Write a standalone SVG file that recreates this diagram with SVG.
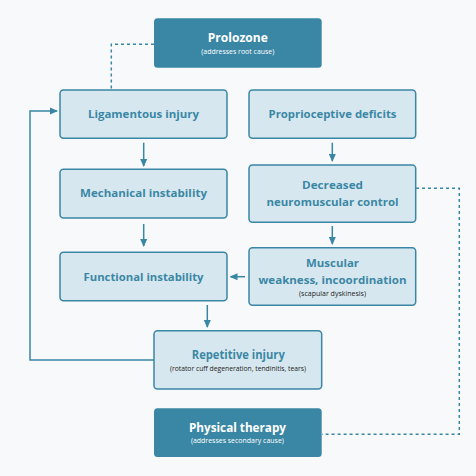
<svg xmlns="http://www.w3.org/2000/svg" width="476" height="476" viewBox="0 0 476 476">
<defs>
<marker id="ah" viewBox="0 0 8 8" refX="7" refY="4" markerWidth="8" markerHeight="8" markerUnits="userSpaceOnUse" orient="auto">
<path d="M0,0.5 L8,4 L0,7.5 Z" fill="#3a87a5"/>
</marker>
<style>
.dark{fill:#3a87a5;}
.light{fill:#d7e7ef;stroke:#3a87a5;stroke-width:1.5;}
.t{font-family:"Open Sans","Noto Sans",sans-serif;font-weight:700;fill:#3a87a5;text-anchor:middle;}
.tw{font-family:"Open Sans","Noto Sans",sans-serif;font-weight:700;fill:#ffffff;text-anchor:middle;}
.s{font-family:"Open Sans","Noto Sans",sans-serif;font-weight:500;fill:#222222;text-anchor:middle;font-size:6.5px;}
.sw{font-family:"Open Sans","Noto Sans",sans-serif;font-weight:500;fill:#ffffff;text-anchor:middle;font-size:6.8px;}
.ln{fill:none;stroke:#3a87a5;stroke-width:1.5;}
.dash{fill:none;stroke:#3a87a5;stroke-width:1.5;stroke-dasharray:3,3;}
</style>
</defs>
<rect width="476" height="476" fill="#f8f9fa"/>
<g id="connectors">
<path class="dash" d="M154,44.3 H111.3 V90"/>
<path class="dash" d="M416,188.3 H459.3 V434.3 H322"/>
<path class="ln" d="M143.7,142.7 V166" marker-end="url(#ah)"/>
<path class="ln" d="M143.7,224 V246" marker-end="url(#ah)"/>
<path class="ln" d="M332.3,142.7 V161" marker-end="url(#ah)"/>
<path class="ln" d="M332.3,226 V244" marker-end="url(#ah)"/>
<path class="ln" d="M245,276.7 H230.5" marker-end="url(#ah)"/>
<path class="ln" d="M207.3,305 V327" marker-end="url(#ah)"/>
<path class="ln" d="M154,360 H30 V111 H57" marker-end="url(#ah)"/>
</g>
<g id="prolozone">
<rect class="dark" x="154" y="18.3" width="167.7" height="49.4" rx="3.5"/>
<text class="tw" x="237.8" y="42.3" font-size="13" textLength="60" lengthAdjust="spacingAndGlyphs">Prolozone</text>
<text class="sw" x="237.8" y="54" textLength="73" lengthAdjust="spacingAndGlyphs">(addresses root cause)</text>
</g>
<g id="ligamentous">
<rect class="light" x="60" y="90" width="167" height="48.3" rx="3.5"/>
<text class="t" x="143.5" y="118" font-size="11" textLength="111" lengthAdjust="spacingAndGlyphs">Ligamentous injury</text>
</g>
<g id="proprioceptive">
<rect class="light" x="249" y="90" width="166.7" height="48.3" rx="3.5"/>
<text class="t" x="332.5" y="118" font-size="11" textLength="128" lengthAdjust="spacingAndGlyphs">Proprioceptive deficits</text>
</g>
<g id="mechanical">
<rect class="light" x="60" y="169.3" width="167" height="48.7" rx="3.5"/>
<text class="t" x="143.5" y="197.3" font-size="11" textLength="127" lengthAdjust="spacingAndGlyphs">Mechanical instability</text>
</g>
<g id="decreased">
<rect class="light" x="249" y="165" width="166.7" height="57.3" rx="3.5"/>
<text class="t" x="332.5" y="189" font-size="11" textLength="61" lengthAdjust="spacingAndGlyphs">Decreased</text>
<text class="t" x="332.5" y="205.7" font-size="11" textLength="132" lengthAdjust="spacingAndGlyphs">neuromuscular control</text>
</g>
<g id="functional">
<rect class="light" x="60" y="252.3" width="167" height="48.4" rx="3.5"/>
<text class="t" x="143.5" y="281" font-size="11" textLength="120" lengthAdjust="spacingAndGlyphs">Functional instability</text>
</g>
<g id="muscular">
<rect class="light" x="249" y="247.7" width="166.7" height="57.6" rx="3.5"/>
<text class="t" x="332.5" y="267.3" font-size="11" textLength="53" lengthAdjust="spacingAndGlyphs">Muscular</text>
<text class="t" x="332.5" y="283.7" font-size="11" textLength="148" lengthAdjust="spacingAndGlyphs">weakness, incoordination</text>
<text class="s" x="332.5" y="296" textLength="67" lengthAdjust="spacingAndGlyphs">(scapular dyskinesis)</text>
</g>
<g id="repetitive">
<rect class="light" x="154" y="330.7" width="167.7" height="58.3" rx="3.5"/>
<text class="t" x="238.3" y="358.8" font-size="12.5" textLength="93" lengthAdjust="spacingAndGlyphs">Repetitive injury</text>
<text class="s" x="238" y="370.7" textLength="136" lengthAdjust="spacingAndGlyphs">(rotator cuff degeneration, tendinitis, tears)</text>
</g>
<g id="physical-therapy">
<rect class="dark" x="154" y="408.3" width="167.7" height="48.7" rx="3.5"/>
<text class="tw" x="237.5" y="432.2" font-size="12.5" textLength="97" lengthAdjust="spacingAndGlyphs">Physical therapy</text>
<text class="sw" x="237.4" y="443.2" textLength="93" lengthAdjust="spacingAndGlyphs">(addresses secondary cause)</text>
</g>
</svg>
